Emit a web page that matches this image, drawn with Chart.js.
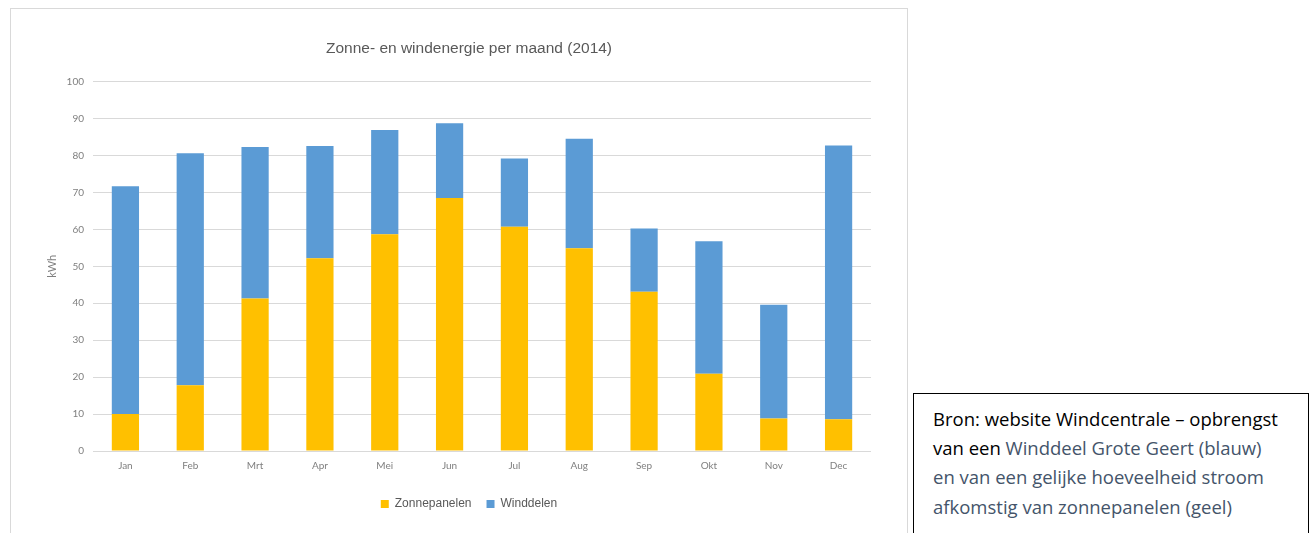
<!DOCTYPE html>
<html>
<head>
<meta charset="utf-8">
<script src="https://cdn.jsdelivr.net/npm/chart.js@4.4.1/dist/chart.umd.min.js"></script>
<style>
  body { margin: 0; background: #fff; width: 1312px; height: 533px; overflow: hidden; position: relative; }
  #chartBox { position: absolute; left: 10px; top: 8px; width: 896px; height: 524px; border: 1px solid #d9d9d9; border-bottom: none; }
  #note {
    position: absolute; left: 913px; top: 393px; width: 396px; height: 150px;
    border: 1px solid #000; box-sizing: border-box; padding: 10px 0 0 19px;
    font-family: "Open Sans", sans-serif; font-size: 18.5px; line-height: 29.2px; color: #44546A;
  }
  #note .zw { color: #000; }
</style>
</head>
<body>
<div id="chartBox"><canvas id="chart-bars"></canvas></div>
<div id="note"><span class="zw">Bron: website Windcentrale – opbrengst<br>van een</span> Winddeel Grote Geert (blauw)<br>en van een gelijke hoeveelheid stroom<br>afkomstig van zonnepanelen (geel)</div>

<script>
// maanden 2014, waarden in kWh
var months = ["Jan", "Feb", "Mrt", "Apr", "Mei", "Jun", "Jul", "Aug", "Sep", "Okt", "Nov", "Dec"];
var zonValues = [10.0, 17.8, 41.3, 52.2, 58.7, 68.5, 60.7, 54.9, 43.1, 20.9, 8.8, 8.6];
var windValues = [61.7, 62.8, 41.0, 30.4, 28.2, 20.2, 18.5, 29.6, 17.1, 35.9, 30.8, 74.1];
var yTicks = [0, 10, 20, 30, 40, 50, 60, 70, 80, 90, 100];

var gridColor = "#d9d9d9";
var textColor = "#595959";
var padLeft = 56; // schuift titel en legenda iets naar rechts, y-as vult de rest

var ctx = document.getElementById("chart-bars").getContext("2d");
new Chart(ctx, {
  type: "bar",
  data: {
    labels: months,
    datasets: [
      {
        label: "Zonnepanelen",
        backgroundColor: "#FFC000",
        borderWidth: 0,
        data: zonValues,
        barPercentage: 0.42,
        categoryPercentage: 1.0,
      },
      {
        label: "Winddelen",
        backgroundColor: "#5B9BD5",
        borderWidth: 0,
        data: windValues,
        barPercentage: 0.42,
        categoryPercentage: 1.0,
      },
    ],
  },
  options: {
    responsive: true,
    maintainAspectRatio: false,
    animation: false,
    layout: {
      padding: { left: padLeft, right: 36, top: 0, bottom: 13 },
    },
    plugins: {
      title: {
        display: true,
        text: "Zonne- en windenergie per maand (2014)",
        color: textColor,
        font: { family: "'Liberation Sans', Arial, sans-serif", size: 15.5, weight: "normal" },
        padding: { top: 30, bottom: 24 },
      },
      legend: {
        display: true,
        position: "bottom",
        labels: {
          boxWidth: 8,
          boxHeight: 8,
          padding: 15,
          color: textColor,
          font: { family: "'Liberation Sans', Arial, sans-serif", size: 12 },
        },
      },
      tooltip: { enabled: false },
    },
    scales: {
      x: {
        stacked: true,
        grid: { display: false, drawTicks: false },
        border: { display: false },
        ticks: {
          color: "#7f7f7f",
          padding: 9,
          font: { family: "Lato, sans-serif", size: 10 },
        },
        afterFit: function (scale) {
          scale.height = 32;
        },
      },
      y: {
        stacked: true,
        min: 0,
        max: 100,
        afterBuildTicks: function (scale) {
          scale.ticks = yTicks.map(function (v) { return { value: v }; });
        },
        grid: { color: gridColor, lineWidth: 1, drawTicks: false },
        border: { display: false },
        ticks: {
          color: "#7f7f7f",
          padding: 9,
          font: { family: "Lato, sans-serif", size: 10 },
        },
        title: {
          display: true,
          text: "kWh",
          color: "#7f7f7f",
          font: { family: "Lato, sans-serif", size: 11 },
          padding: { top: 35 - padLeft, bottom: 0 },
        },
        afterFit: function (scale) {
          scale.width = 82 - padLeft;
        },
      },
    },
  },
});
</script>
</body>
</html>
